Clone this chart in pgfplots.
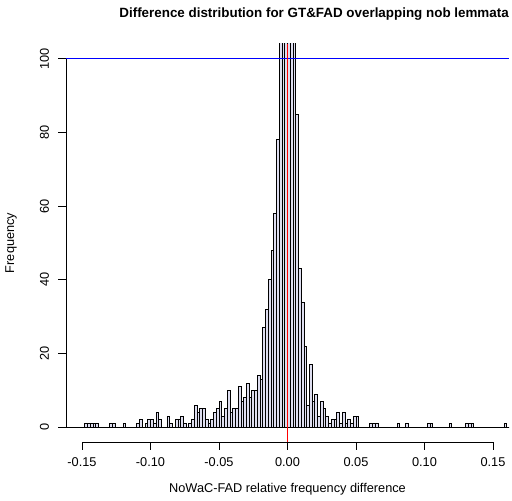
\documentclass[border=0pt]{standalone}
\usepackage{fontspec}
\setmainfont{Liberation Sans}
\usepackage{pgfplots}
\pgfplotsset{compat=1.18}
\usepackage{pgfplotstable}
\definecolor{barfill}{RGB}{222,222,240}
\pgfplotstableread{
x y
-0.162 0
-0.160 0
-0.158 0
-0.156 0
-0.154 0
-0.152 0
-0.150 0
-0.148 1
-0.146 1
-0.144 1
-0.142 1
-0.140 1
-0.138 0
-0.136 0
-0.134 0
-0.132 0
-0.130 1
-0.128 1
-0.126 0
-0.124 0
-0.122 0
-0.120 1
-0.118 0
-0.116 0
-0.114 0
-0.112 0
-0.110 1
-0.108 2
-0.106 0
-0.104 1
-0.102 2
-0.100 2
-0.098 1
-0.096 4
-0.094 2
-0.092 0
-0.090 0
-0.088 3
-0.086 1
-0.084 0
-0.082 2
-0.080 2
-0.078 3
-0.076 1
-0.074 0
-0.072 1
-0.070 2
-0.068 6
-0.066 4
-0.064 5
-0.062 5
-0.060 2
-0.058 1
-0.056 2
-0.054 4
-0.052 5
-0.050 7
-0.048 3
-0.046 5
-0.044 10
-0.042 4
-0.040 5
-0.038 5
-0.036 11
-0.034 7
-0.032 8
-0.030 12
-0.028 8
-0.026 10
-0.024 10
-0.022 14
-0.020 13
-0.018 27
-0.016 32
-0.014 40
-0.012 48
-0.010 58
-0.008 78
-0.006 130
-0.004 200
-0.002 260
0.000 240
0.002 170
0.004 115
0.006 85
0.008 43
0.010 34
0.012 22
0.014 6
0.016 17
0.018 7
0.020 9
0.022 3
0.024 7
0.026 5
0.028 3
0.030 1
0.032 2
0.034 2
0.036 4
0.038 1
0.040 4
0.042 1
0.044 2
0.046 1
0.048 3
0.050 3
0.052 0
0.054 0
0.056 0
0.058 0
0.060 1
0.062 1
0.064 1
0.066 0
0.068 0
0.070 0
0.072 0
0.074 0
0.076 0
0.078 0
0.080 1
0.082 0
0.084 0
0.086 1
0.088 0
0.090 0
0.092 0
0.094 0
0.096 0
0.098 0
0.100 0
0.102 1
0.104 1
0.106 0
0.108 0
0.110 0
0.112 0
0.114 0
0.116 0
0.118 1
0.120 0
0.122 0
0.124 0
0.126 0
0.128 0
0.130 1
0.132 1
0.134 1
0.136 0
0.138 0
0.140 0
0.142 0
0.144 0
0.146 0
0.148 0
0.150 0
0.152 0
0.154 0
0.156 0
0.158 1
0.160 0
0.162 0
}\histdata

\begin{document}
\begin{tikzpicture}
\useasboundingbox (0,0) rectangle (512bp,501bp);
\begin{axis}[
  at={(66bp,59bp)}, anchor=south west,
  scale only axis, width=443bp, height=398bp,
  xmin=-0.1617, xmax=0.1617, ymin=-4, ymax=104,
  clip mode=individual,
  axis x line*=bottom, axis y line*=left,
  axis line style={draw=none},
  tick align=outside, major tick length=7.5bp,
  tick style={black, line width=0.8bp},
  xtick={-0.15,-0.10,-0.05,0,0.05,0.10,0.15},
  xticklabels={-0.15,-0.10,-0.05,0.00,0.05,0.10,0.15},
  ytick={0,20,40,60,80,100},
  yticklabels={0,20,40,60,80,100},
  minor tick num=0,
  ticklabel style={font=\fontsize{12.75bp}{15bp}\selectfont},
  yticklabel style={rotate=90, anchor=south},
  xticklabel style={anchor=north},
  yticklabel shift=6bp,
  xticklabel shift=5bp,
  label style={font=\fontsize{12.75bp}{15bp}\selectfont},
  xlabel={NoWaC-FAD relative frequency difference},
  ylabel={Frequency},
  xlabel style={at={(axis description cs:0.5,-0.1195)}, anchor=center},
  ylabel style={at={(axis description cs:-0.124,0.5)}, anchor=center},
  title={Difference distribution for GT\&FAD overlapping nob lemmata},
  every axis title shift=0pt,
  title style={font=\bfseries\fontsize{13.4bp}{16bp}\selectfont, at={(axis description cs:0.56,1.0754)}, anchor=center},
]
\addplot[ybar interval, fill=barfill, draw=black, line width=0.8bp] table[x=x, y=y] {\histdata};
\draw[blue, line width=1bp] (axis cs:-0.1617,100) -- (axis cs:0.1617,100);
\draw[red, line width=1bp] (axis cs:0,-4) -- (axis cs:0,104);
\draw[black, line width=0.8bp] (axis cs:-0.15,-4) -- (axis cs:0.15,-4);
\draw[black, line width=0.8bp] (axis cs:-0.1617,0) -- (axis cs:-0.1617,100);
\end{axis}
\end{tikzpicture}
\end{document}
